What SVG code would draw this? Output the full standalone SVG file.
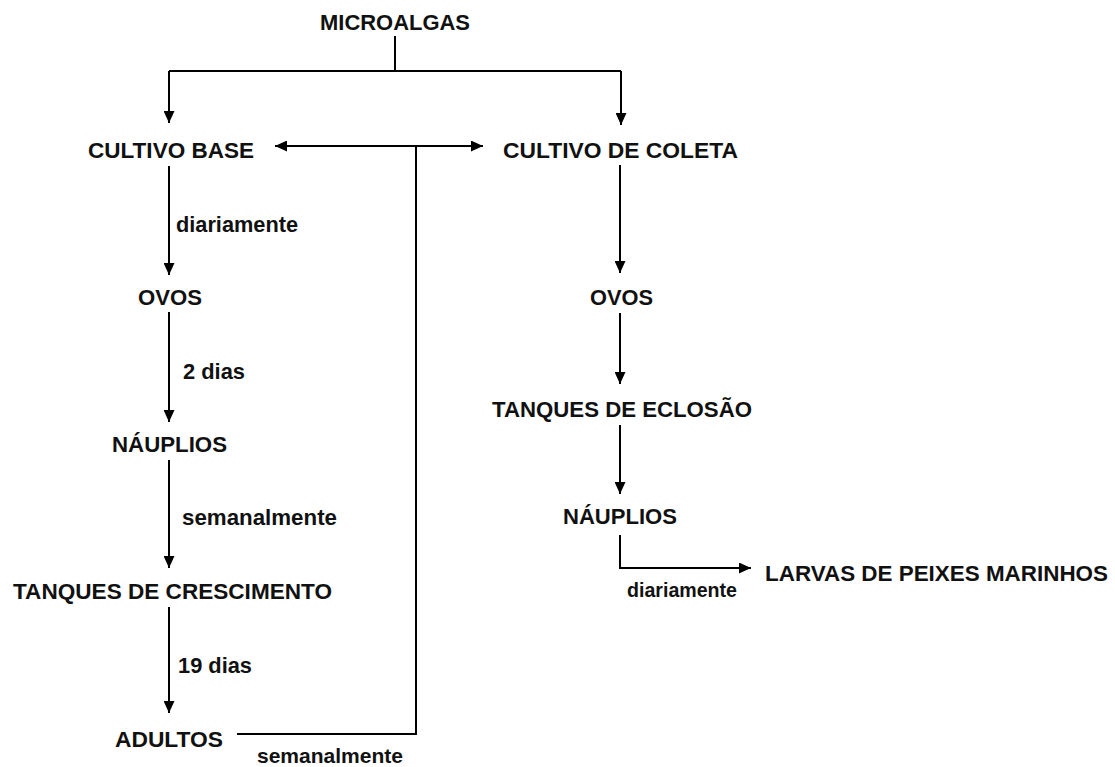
<svg xmlns="http://www.w3.org/2000/svg" width="1115" height="767" viewBox="0 0 1115 767">
  <style>
    .node { font-family: "Liberation Sans", Arial, sans-serif; font-weight: bold; font-size: 22.5px; fill: #111; }
    .lbl { font-family: "Liberation Sans", Arial, sans-serif; font-weight: bold; font-size: 22px; fill: #111; }
    .edge { fill: none; stroke: #000; stroke-width: 2; }
  </style>
  <defs>
    <marker id="arr" markerUnits="userSpaceOnUse" markerWidth="12" markerHeight="11" refX="12" refY="5.5" orient="auto-start-reverse">
      <path d="M0,0 L12,5.5 L0,11 z" fill="#000"/>
    </marker>
  </defs>
  <rect width="1115" height="767" fill="#fff"/>

  <g id="connectors">
    <path class="edge" d="M395,36 V71"/>
    <path class="edge" d="M169,71 H621"/>
    <path class="edge" d="M169,71 V123" marker-end="url(#arr)"/>
    <path class="edge" d="M621,71 V125" marker-end="url(#arr)"/>
    <path class="edge" d="M275,146 H483" marker-start="url(#arr)" marker-end="url(#arr)"/>
    <path class="edge" d="M416,146 V734 H237"/>
    <path class="edge" d="M169,166 V275" marker-end="url(#arr)"/>
    <path class="edge" d="M169,312 V422" marker-end="url(#arr)"/>
    <path class="edge" d="M169,460 V568" marker-end="url(#arr)"/>
    <path class="edge" d="M169,607 V713" marker-end="url(#arr)"/>
    <path class="edge" d="M620,165 V273" marker-end="url(#arr)"/>
    <path class="edge" d="M620,313 V384" marker-end="url(#arr)"/>
    <path class="edge" d="M620,425 V494" marker-end="url(#arr)"/>
    <path class="edge" d="M620,535 V568 H751" marker-end="url(#arr)"/>
    <text class="lbl" x="176" y="232" textLength="122" lengthAdjust="spacingAndGlyphs">diariamente</text>
    <text class="lbl" x="183" y="379" textLength="62" lengthAdjust="spacingAndGlyphs">2 dias</text>
    <text class="lbl" x="182" y="525" textLength="155" lengthAdjust="spacingAndGlyphs">semanalmente</text>
    <text class="lbl" x="178" y="673" textLength="74" lengthAdjust="spacingAndGlyphs">19 dias</text>
    <text class="lbl" x="257" y="763" style="font-size:21px" textLength="146" lengthAdjust="spacingAndGlyphs">semanalmente</text>
    <text class="lbl" x="627" y="597" style="font-size:20px" textLength="110" lengthAdjust="spacingAndGlyphs">diariamente</text>
  </g>

  <g id="n-microalgas"><text class="node" x="320" y="30" textLength="150" lengthAdjust="spacingAndGlyphs">MICROALGAS</text></g>
  <g id="n-cultivo-base"><text class="node" x="88" y="158" textLength="166" lengthAdjust="spacingAndGlyphs">CULTIVO BASE</text></g>
  <g id="n-cultivo-coleta"><text class="node" x="503" y="158" textLength="235" lengthAdjust="spacingAndGlyphs">CULTIVO DE COLETA</text></g>
  <g id="n-ovos-1"><text class="node" x="138" y="305" textLength="64" lengthAdjust="spacingAndGlyphs">OVOS</text></g>
  <g id="n-nauplios-1"><text class="node" x="112" y="452" textLength="115" lengthAdjust="spacingAndGlyphs">NÁUPLIOS</text></g>
  <g id="n-tanques-crescimento"><text class="node" x="13" y="599" textLength="319" lengthAdjust="spacingAndGlyphs">TANQUES DE CRESCIMENTO</text></g>
  <g id="n-adultos"><text class="node" x="115" y="747" textLength="108" lengthAdjust="spacingAndGlyphs">ADULTOS</text></g>
  <g id="n-ovos-2"><text class="node" x="590" y="305" textLength="63" lengthAdjust="spacingAndGlyphs">OVOS</text></g>
  <g id="n-tanques-eclosao"><text class="node" x="492" y="417" textLength="260" lengthAdjust="spacingAndGlyphs">TANQUES DE ECLOSÃO</text></g>
  <g id="n-nauplios-2"><text class="node" x="563" y="524" textLength="114" lengthAdjust="spacingAndGlyphs">NÁUPLIOS</text></g>
  <g id="n-larvas"><text class="node" x="765" y="581" textLength="343" lengthAdjust="spacingAndGlyphs">LARVAS DE PEIXES MARINHOS</text></g>
</svg>
